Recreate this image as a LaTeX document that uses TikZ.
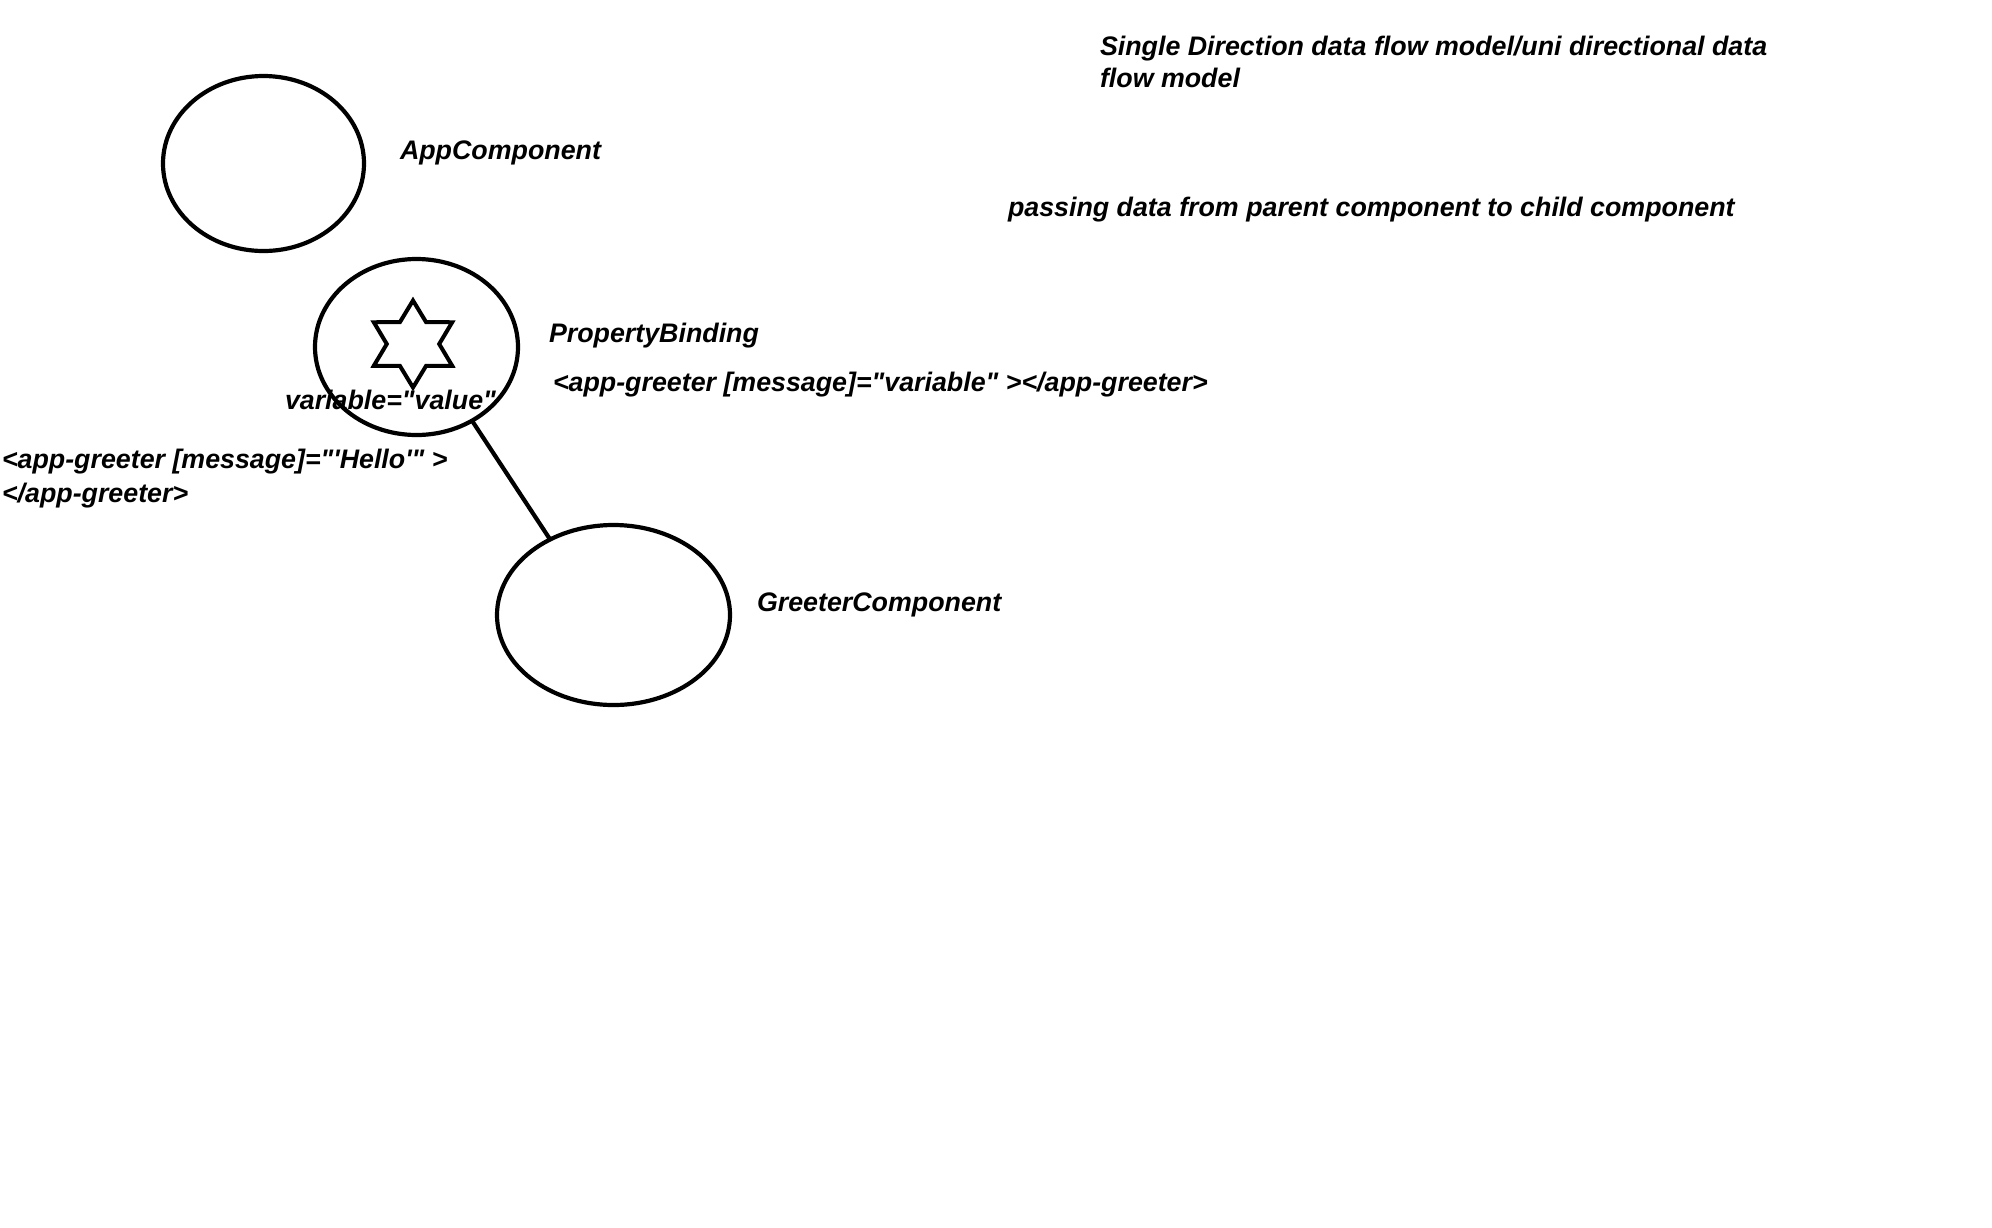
\documentclass[tikz,border=0pt]{standalone}
\usepackage{fontspec}
\setmainfont{Liberation Sans}
\usetikzlibrary{shapes.geometric}
\newcommand{\dq}{\textquotedbl}
\newcommand{\sq}{\textquotesingle}
\tikzset{
  comp/.style={ellipse, draw=black, line width=4.2pt, inner sep=0pt, outer sep=0pt},
  lbl/.style={anchor=base west, inner sep=0pt, outer sep=0pt, font=\fontsize{26.8}{32}\selectfont\bfseries\itshape},
  conn/.style={draw=black, line width=4.2pt},
  hexstar/.style={draw=black, line width=4pt, line join=miter}
}
\begin{document}
\begin{tikzpicture}[x=1pt, y=-1pt]
\fill[white] (0,0) rectangle (1992,1227);
\useasboundingbox (0,0) rectangle (1992,1227);

% ellipses
\node[comp, minimum width=201pt, minimum height=175pt] (app) at (263.5,163.5) {};
\node[comp, minimum width=203pt, minimum height=176pt] (pb) at (416.5,347) {};
\node[comp, minimum width=233pt, minimum height=180pt] (gr) at (613.5,615) {};

% six-pointed star
\begin{scope}[shift={(413,344)}, xscale=1.04]
\draw[hexstar] (90:43.5) -- (120:25.2) -- (150:43.5) -- (180:25.2) -- (210:43.5) -- (240:25.2)
  -- (270:43.5) -- (300:25.2) -- (330:43.5) -- (0:25.2) -- (30:43.5) -- (60:25.2) -- cycle;
\end{scope}

% connector
\draw[conn] (pb.-53.4) -- (gr.130.8);

% labels
\node[lbl] (tappc) at (400,159) {AppComponent};
\node[lbl] (tpb) at (549,342) {PropertyBinding};
\node[lbl] (tvar) at (553,391) {<app-greeter [message]=\dq variable\dq{} ></app-greeter>};
\node[lbl] (tval) at (285,409) {variable=\dq value\dq};
\node[lbl] (thello1) at (2,468) {<app-greeter [message]=\dq\sq Hello\sq\dq{} >};
\node[lbl] (thello2) at (2,502) {</app-greeter>};
\node[lbl] (tgr) at (757,611) {GreeterComponent};
\node[lbl] (ttitle1) at (1100,55) {Single Direction data flow model/uni directional data};
\node[lbl] (ttitle2) at (1100,87) {flow model};
\node[lbl] (tpass) at (1008,216) {passing data from parent component to child component};
\end{tikzpicture}
\end{document}
